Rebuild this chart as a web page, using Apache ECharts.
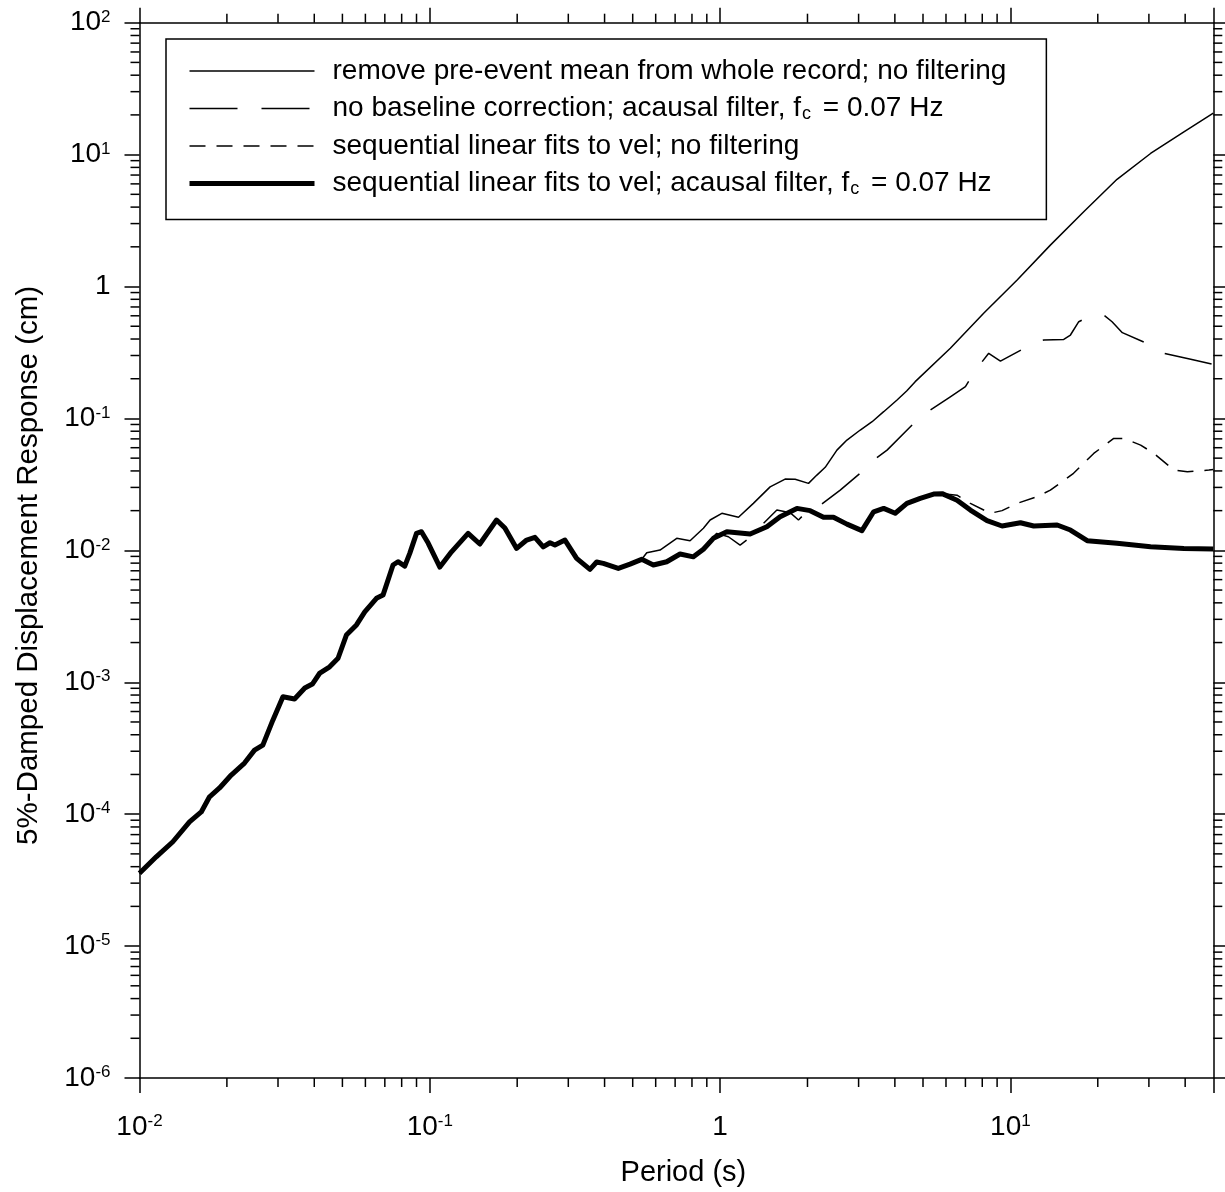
<!DOCTYPE html>
<html>
<head>
<meta charset="utf-8">
<script src="https://cdn.jsdelivr.net/npm/echarts@6/dist/echarts.min.js"></script>
<style>
html,body{margin:0;padding:0;background:#ffffff;}
#chart{width:1225px;height:1192px;}
</style>
</head>
<body>
<div id="chart"></div>
<script>
const FONT = '"Liberation Sans", Arial, Helvetica, sans-serif';

// ---- Data (period in s, displacement in cm) ----
// Thick curve: sequential linear fits to vel; acausal filter (the other curves coincide with it at short periods)
const thickPeriods = [0.01, 0.01142, 0.01303, 0.01487, 0.01632, 0.01743, 0.01887, 0.0207, 0.0230, 0.0249,
  0.0266, 0.0288, 0.0312, 0.0342, 0.0371, 0.0394, 0.0418, 0.0452, 0.0483, 0.0516,
  0.0559, 0.0597, 0.0655, 0.0690, 0.0747, 0.0777, 0.0820, 0.0853, 0.0900, 0.0936,
  0.0987, 0.1083, 0.1188, 0.1355, 0.1487, 0.1698, 0.1814, 0.1991, 0.2156, 0.2302,
  0.2459, 0.2594, 0.2698, 0.2921, 0.3205, 0.3562, 0.3757, 0.396, 0.446, 0.4895,
  0.537, 0.589, 0.655, 0.728, 0.809, 0.876, 0.948, 1.055, 1.269, 1.449,
  1.610, 1.839, 2.043, 2.271, 2.458, 2.735, 3.08, 3.38, 3.66, 4.01,
  4.40, 4.89, 5.44, 5.82, 6.55, 7.28, 8.31, 9.36, 10.83, 12.03,
  14.49, 16.1, 18.39, 23.3, 30.4, 39.6, 50];
const thickValues = [3.57e-5, 4.75e-5, 6.18e-5, 8.75e-5, 1.04e-4, 1.355e-4, 1.58e-4, 1.98e-4, 2.44e-4, 3.06e-4,
  3.34e-4, 5.16e-4, 7.76e-4, 7.46e-4, 9.04e-4, 9.69e-4, 1.175e-3, 1.31e-3, 1.52e-3, 2.28e-3,
  2.72e-3, 3.42e-3, 4.33e-3, 4.58e-3, 7.74e-3, 8.20e-3, 7.60e-3, 9.49e-3, 0.01345, 0.01384,
  0.01136, 7.47e-3, 9.75e-3, 0.01345, 0.01117, 0.01698, 0.01476, 0.01035, 0.01197, 0.01256,
  0.01064, 0.01142, 0.01097, 0.01197, 8.69e-3, 7.18e-3, 8.15e-3, 7.97e-3, 7.30e-3, 7.87e-3,
  8.55e-3, 7.74e-3, 8.20e-3, 9.38e-3, 8.93e-3, 0.0102, 0.01233, 0.01384, 0.0133, 0.0151,
  0.0180, 0.0208, 0.0200, 0.0178, 0.0178, 0.0158, 0.0141, 0.0196, 0.0208, 0.0191,
  0.0227, 0.0248, 0.0267, 0.0269, 0.0240, 0.0202, 0.0168, 0.0153, 0.0162, 0.0153,
  0.01556, 0.01426, 0.01183, 0.0113, 0.01064, 0.01035, 0.01023];

// Thin solid: remove pre-event mean (leaves the thick curve after ~0.54 s)
const meanSplit = 0.54;
const meanPeriods = [0.559, 0.621, 0.709, 0.788, 0.876, 0.924, 1.014, 1.157, 1.302, 1.487,
  1.675, 1.814, 2.016, 2.155, 2.302, 2.526, 2.735, 3.04, 3.34, 3.66,
  4.07, 4.40, 4.70, 6.21, 8.09, 10.55, 13.73, 17.89, 23.3, 30.4, 39.6, 50];
const meanValues = [0.0096, 0.01005, 0.01233, 0.01183, 0.01469, 0.01698, 0.0191, 0.0178, 0.0227, 0.0303,
  0.0347, 0.0346, 0.0322, 0.0372, 0.0426, 0.0575, 0.0686, 0.0817, 0.0944, 0.1125,
  0.138, 0.162, 0.190, 0.340, 0.627, 1.12, 2.06, 3.69, 6.50, 10.2, 14.9, 20.6];

// Long dash: no baseline correction (leaves the thick curve after ~0.85 s)
const noBaseSplit = 0.85;
const noBasePeriods = [0.876, 0.974, 1.068, 1.172, 1.236, 1.374, 1.569, 1.743, 1.862, 1.937,
  2.155, 2.593, 3.08, 3.38, 3.76, 4.77, 5.30, 6.21, 7.00, 7.47,
  7.99, 8.42, 9.24, 11.42, 13.02, 15.27, 16.1, 17.2, 18.87, 20.98,
  22.4, 24.3, 30.4, 33.8, 41.8, 50];
const noBaseValues = [0.01064, 0.01345, 0.01268, 0.01097, 0.01197, 0.0151, 0.0202, 0.0193, 0.0170, 0.01854,
  0.0210, 0.0286, 0.0394, 0.0484, 0.0575, 0.0972, 0.116, 0.146, 0.174, 0.220,
  0.269, 0.312, 0.272, 0.350, 0.393, 0.397, 0.429, 0.541, 0.597, 0.607,
  0.541, 0.447, 0.360, 0.312, 0.281, 0.257];

// Short dash: sequential linear fits, no filtering (leaves the thick curve after ~6.3 s)
const seqSplit = 6.3;
const seqPeriods = [6.55, 7.28, 8.53, 9.36, 10.55, 12.36, 13.73, 16.5, 19.37, 22.7,
  24.6, 28.1, 31.2, 36.6, 40.7, 48.3, 50];
const seqValues = [0.0262, 0.0227, 0.0191, 0.0200, 0.0227, 0.0255, 0.0286, 0.0384, 0.0543, 0.0706,
  0.0706, 0.0628, 0.0543, 0.0406, 0.0394, 0.0406, 0.041];

// Axis ranges and minor tick structure
const X_MIN = 0.01, X_MAX = 50;
const Y_MIN = 1e-6, Y_MAX = 100;
const minorMultipliers = [2, 3, 4, 5, 6, 7, 8, 9];
const xDecades = [0.01, 0.1, 1, 10];
const yDecades = [1e-6, 1e-5, 1e-4, 1e-3, 1e-2, 1e-1, 1, 10];

const seriesNames = [
  'remove pre-event mean from whole record; no filtering',
  'no baseline correction; acausal filter, f_c = 0.07 Hz',
  'sequential linear fits to vel; no filtering',
  'sequential linear fits to vel; acausal filter, f_c = 0.07 Hz'
];

// ---- Build series data ----
const zip = (a, b) => a.map((v, i) => [v, b[i]]);
const thickData = zip(thickPeriods, thickValues);
const meanData = thickData.filter(p => p[0] < meanSplit).concat(zip(meanPeriods, meanValues));
const noBaseData = thickData.filter(p => p[0] < noBaseSplit).concat(zip(noBasePeriods, noBaseValues));
const seqData = thickData.filter(p => p[0] < seqSplit).concat(zip(seqPeriods, seqValues));

const xMinor = [];
xDecades.forEach(d => minorMultipliers.forEach(m => { const v = d * m; if (v < X_MAX * 0.999) xMinor.push(v); }));
const yMinor = [];
yDecades.forEach(d => minorMultipliers.forEach(m => { yMinor.push(d * m); }));

function powLabel(v) {
  const l = Math.log10(v);
  const k = Math.round(l);
  if (Math.abs(l - k) > 1e-6) return '';
  if (k === 0) return '{b|1}';
  return '{b|10}{s|' + k + '}';
}
const labelRich = {
  b: { fontSize: 28, lineHeight: 28, fontFamily: FONT, color: '#000' },
  s: { fontSize: 17, lineHeight: 14, verticalAlign: 'top', fontFamily: FONT, color: '#000' }
};

const AXIS_W = 1.5;
const MINOR_LEN = 9;
const MAJOR_LEN = 15;

function logAxis(extra) {
  return Object.assign({
    type: 'log', logBase: 10,
    splitLine: { show: false },
    axisLine: { show: true, lineStyle: { color: '#000', width: AXIS_W } },
    axisTick: { show: true, inside: false, length: MAJOR_LEN, lineStyle: { color: '#000', width: AXIS_W } },
    minorTick: { show: false },
  }, extra);
}

const lineBase = { type: 'line', showSymbol: false, symbol: 'none', animation: false, xAxisIndex: 0, yAxisIndex: 0 };

const option = {
  animation: false,
  backgroundColor: '#ffffff',
  grid: { left: 139.5, right: 11.7, top: 22.7, bottom: 114, containLabel: false },
  xAxis: [
    logAxis({
      min: X_MIN, max: X_MAX, interval: 1, splitNumber: 4, position: 'bottom',
      axisLabel: { show: true, margin: 35, formatter: powLabel, rich: labelRich, fontSize: 28, fontFamily: FONT, color: '#000' },
      name: 'Period (s)', nameLocation: 'middle', nameGap: 80,
      nameTextStyle: { fontSize: 29, fontFamily: FONT, color: '#000', padding: [0, 0, 0, 14] }
    }),
    logAxis({
      min: X_MIN, max: X_MAX, interval: 1, splitNumber: 4, position: 'top',
      axisLabel: { show: false }
    })
  ],
  yAxis: [
    logAxis({
      min: Y_MIN, max: Y_MAX, interval: 1, splitNumber: 8, position: 'left',
      axisLabel: { show: true, margin: 29, formatter: powLabel, rich: labelRich, fontSize: 28, fontFamily: FONT, color: '#000' },
      name: '5%-Damped Displacement Response (cm)', nameLocation: 'middle', nameGap: 96, nameRotate: 90,
      nameTextStyle: { fontSize: 29.5, fontFamily: FONT, color: '#000', padding: [0, 30, 0, 0] }
    }),
    logAxis({
      min: Y_MIN, max: Y_MAX, interval: 1, splitNumber: 8, position: 'right',
      axisLabel: { show: false }
    })
  ],
  legend: {
    data: seriesNames,
    orient: 'vertical',
    left: 166, top: 39,
    padding: [17, 40, 21, 21],
    itemWidth: 125, itemHeight: 14, itemGap: 7.5,
    borderColor: '#000', borderWidth: 1.5, borderRadius: 0,
    backgroundColor: '#ffffff',
    selectedMode: false,
    itemStyle: { color: 'rgba(0,0,0,0)', borderColor: 'rgba(0,0,0,0)', borderWidth: 0, opacity: 0 },
    lineStyle: { width: 'inherit' },
    textStyle: {
      fontFamily: FONT, fontSize: 28, color: '#000', lineHeight: 30, padding: [0, 0, 0, 13],
      rich: { sub: { fontSize: 18, lineHeight: 14, verticalAlign: 'bottom', fontFamily: FONT, color: '#000', padding: [0, 4, 0, 1] } }
    },
    formatter: name => name.replace('f_c', 'f{sub|c}')
  },
  series: [
    {
      type: 'custom', silent: true, clip: false, z: 3, xAxisIndex: 0, yAxisIndex: 0,
      data: xMinor.map(v => [v, Y_MIN]),
      renderItem: function (params, api) {
        const cs = params.coordSys;
        const px = api.coord([api.value(0), api.value(1)])[0];
        const b = cs.y + cs.height, t = cs.y;
        const st = { stroke: '#000', lineWidth: AXIS_W };
        return { type: 'group', children: [
          { type: 'line', shape: { x1: px, y1: b, x2: px, y2: b + MINOR_LEN }, style: st },
          { type: 'line', shape: { x1: px, y1: t, x2: px, y2: t - MINOR_LEN }, style: st }
        ] };
      }
    },
    {
      type: 'custom', silent: true, clip: false, z: 3, xAxisIndex: 0, yAxisIndex: 0,
      data: yMinor.map(v => [X_MIN, v]),
      renderItem: function (params, api) {
        const cs = params.coordSys;
        const py = api.coord([api.value(0), api.value(1)])[1];
        const l = cs.x, r = cs.x + cs.width;
        const st = { stroke: '#000', lineWidth: AXIS_W };
        return { type: 'group', children: [
          { type: 'line', shape: { x1: l, y1: py, x2: l - MINOR_LEN, y2: py }, style: st },
          { type: 'line', shape: { x1: r, y1: py, x2: r + MINOR_LEN, y2: py }, style: st }
        ] };
      }
    },
    Object.assign({}, lineBase, {
      name: seriesNames[0], data: meanData, z: 2,
      lineStyle: { color: '#000', width: 1.5, type: 'solid' }, itemStyle: { color: '#000' }
    }),
    Object.assign({}, lineBase, {
      name: seriesNames[1], data: noBaseData, z: 2,
      lineStyle: { color: '#000', width: 1.5, type: [48, 24] }, itemStyle: { color: '#000' }
    }),
    Object.assign({}, lineBase, {
      name: seriesNames[2], data: seqData, z: 2,
      lineStyle: { color: '#000', width: 1.5, type: [16, 11] }, itemStyle: { color: '#000' }
    }),
    Object.assign({}, lineBase, {
      name: seriesNames[3], data: thickData, z: 2,
      lineStyle: { color: '#000', width: 5, type: 'solid', join: 'round' }, itemStyle: { color: '#000' }
    })
  ]
};

const chart = echarts.init(document.getElementById('chart'), null, { renderer: 'canvas' });
chart.setOption(option);
</script>
</body>
</html>
